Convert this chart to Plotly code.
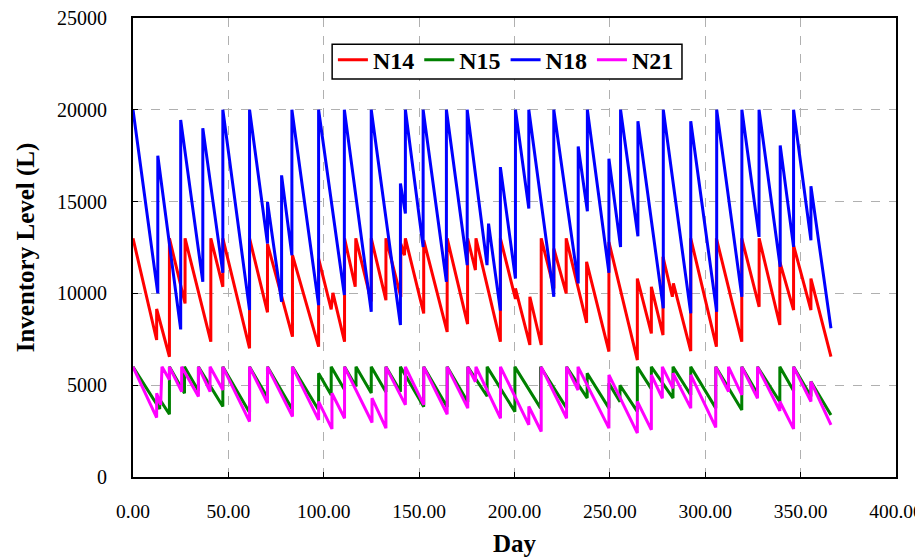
import plotly.graph_objects as go

# ---- data (day, inventory level in L) ----
n14_day = [0, 12.4, 12.4, 19.1, 19.1, 27.3, 27.3, 40.8, 40.8, 47.1, 47.1, 61.1, 61.1,
           70.5, 70.5, 83.6, 83.6, 97.3, 97.3, 103.9, 104.8, 110.9, 110.9, 116.5, 116.8,
           124.9, 124.9, 132.6, 132.6, 140.4, 140.4, 142.3, 142.8, 152.4, 152.4, 164.7, 164.7,
           175.4, 175.4, 179.5, 179.8, 192.6, 192.6, 200.5, 200.5, 208.05, 208.05, 214.0, 214.0,
           220.65, 220.65, 227.1, 227.1, 237.8, 237.8, 249.5, 249.5, 264.4, 264.4, 271.75, 271.75,
           277.85, 277.85, 282.75, 283.3, 292.4, 292.4, 305.85, 305.85, 319.15, 319.15, 328.25, 328.25,
           339.1, 339.1, 346.3, 346.3, 355.4, 355.4, 365.9]
n14_val = [13000, 7460, 9150, 6550, 13000, 9450, 13000, 7370, 13000, 10360, 13000, 7010, 13000,
           8970, 12700, 7640, 12080, 7100, 11900, 9130, 10030, 7370, 13000, 10360, 13000,
           9560, 13000, 9630, 13000, 9810, 12700, 12080, 13000, 8910, 12900, 7900, 13000,
           8330, 13000, 11270, 13000, 7370, 13000, 9700, 10270, 7190, 9816, 7190, 13000,
           10270, 12440, 9997, 13000, 8400, 11720, 6830, 12800, 6370, 10810, 7820, 10360,
           7730, 11990, 9816, 10540, 6860, 13000, 7100, 13000, 7370, 13000, 9270, 13000,
           8280, 11720, 9090, 12620, 9090, 10810, 6560]

n15_day = [0, 14.0, 14.0, 19.1, 19.1, 27.0, 27.0, 34.3, 34.3, 47.1, 47.1, 61.1, 61.1,
           70.5, 70.5, 83.6, 83.6, 97.3, 97.3, 103.9, 103.9, 110.9, 110.9, 116.9, 116.9,
           124.9, 124.9, 132.6, 132.6, 140.2, 140.2, 152.4, 152.4, 164.7, 164.7, 175.5, 175.5,
           185.65, 185.65, 200.2, 200.2, 213.65, 213.65, 227.3, 227.3, 238.1, 238.1, 249.5, 249.5,
           255.3, 255.3, 264.4, 264.4, 271.75, 271.75, 283.1, 283.1, 292.4, 292.4, 305.5, 305.5,
           319.15, 319.15, 327.4, 327.4, 339.1, 339.1, 346.3, 346.3, 355.4, 355.4, 365.9]
n15_val = [6000, 3700, 4230, 3420, 6000, 4560, 6000, 4700, 6000, 3840, 6000, 3510, 6000,
           4330, 6000, 3670, 6000, 3650, 5650, 4470, 6000, 4750, 6000, 4930, 6000,
           4580, 6000, 4630, 6000, 4650, 6000, 3830, 6000, 3810, 6000, 4080, 6000,
           4400, 6000, 3560, 6000, 3750, 6000, 3750, 6000, 4300, 5650, 3750, 5100,
           4100, 5000, 3560, 6000, 4800, 6000, 4300, 6000, 4470, 6000, 3750, 6000,
           3650, 6000, 4530, 6000, 4100, 6000, 4700, 6000, 4380, 5200, 3380]

n18_day = [0, 13.0, 13.0, 25.0, 25.0, 36.6, 36.6, 47.1, 47.1, 61.1, 61.1, 70.5, 70.5,
           77.9, 77.9, 83.3, 83.3, 97.3, 97.3, 110.8, 110.8, 124.9, 124.9, 140.2, 140.2,
           142.8, 142.8, 152.1, 152.1, 164.3, 164.3, 175.2, 175.2, 185.6, 186.4, 192.6, 192.6,
           200.5, 200.5, 207.5, 207.5, 220.6, 220.6, 233.4, 233.4, 238.2, 238.2, 249.5, 249.5,
           255.6, 255.6, 264.7, 264.7, 278.0, 278.0, 292.4, 292.4, 306.0, 306.0, 319.2, 319.2,
           328.2, 328.2, 339.3, 339.3, 346.3, 346.3, 355.4, 355.4, 365.9]
n18_val = [20000, 10000, 17500, 8040, 19450, 10630, 19000, 11120, 20000, 9090, 20000, 12720, 14980,
           9545, 16430, 12080, 20000, 9360, 20000, 9910, 20000, 9000, 20000, 8280, 15980,
           14350, 20000, 12530, 20000, 10630, 20000, 11540, 20000, 11540, 13800, 9060, 16880,
           10815, 20000, 14620, 20000, 9816, 20000, 10544, 18000, 14473, 20000, 11120, 17340,
           12530, 20000, 13115, 19380, 9185, 20000, 8913, 19380, 9000, 20000, 9816, 20000,
           13077, 20000, 11446, 18060, 12533, 20000, 12897, 15832, 8098]

n21_day = [0, 12.4, 12.4, 14.5, 15.2, 19.1, 19.1, 25.5, 25.5, 34.3, 34.3, 40.4, 40.4,
           47.1, 47.1, 61.1, 61.1, 70.5, 70.5, 83.6, 83.6, 97.3, 97.3, 104.3, 104.3,
           110.9, 110.9, 125.3, 125.3, 132.6, 132.6, 142.8, 142.8, 152.4, 152.4, 164.7, 164.7,
           175.5, 175.5, 179.5, 179.8, 192.65, 192.65, 207.5, 207.5, 214.0, 214.0, 227.3, 227.3,
           233.3, 233.3, 249.5, 249.5, 264.4, 264.4, 271.75, 271.75, 277.5, 277.5, 283.1, 283.1,
           292.4, 292.4, 305.5, 305.5, 312.2, 312.2, 319.15, 319.15, 327.4, 327.4, 339.1, 339.1,
           346.3, 346.3, 355.4, 355.4, 365.9]
n21_val = [6000, 3240, 4560, 3930, 6000, 5300, 6000, 4650, 6000, 4380, 6000, 4650, 6000,
           4740, 6000, 3020, 6000, 4020, 6000, 3290, 6000, 3110, 4110, 2620, 4560,
           3200, 6000, 2970, 4290, 2660, 6000, 3930, 6000, 3930, 6000, 3420, 6000,
           3750, 6000, 5190, 6000, 3200, 6000, 2840, 3840, 2480, 6000, 3200, 6000,
           4740, 6000, 2660, 5560, 2390, 4110, 2570, 5560, 4290, 6000, 4830, 5650,
           3750, 5560, 2700, 6000, 4650, 6000, 4470, 6000, 4290, 6000, 3600, 4110,
           2620, 6000, 4110, 5200, 2840]

x_ticks = [0, 50, 100, 150, 200, 250, 300, 350, 400]
y_ticks = [0, 5000, 10000, 15000, 20000, 25000]

series = [
    ("N14", n14_day, n14_val, "#FF0000"),
    ("N15", n15_day, n15_val, "#008000"),
    ("N18", n18_day, n18_val, "#0000FF"),
    ("N21", n21_day, n21_val, "#FF00FF"),
]

serif = "Liberation Serif, Times New Roman, serif"

fig = go.Figure()
for name, d, v, c in series:
    fig.add_trace(go.Scatter(x=d, y=v, mode="lines", name=name,
                             line=dict(color=c, width=3)))

# legend frame (tighter than plotly's own legend border)
fig.add_shape(type="rect", xref="paper", yref="paper",
              x0=0.261, x1=0.7195, y0=0.867, y1=0.943,
              line=dict(color="black", width=1.5), fillcolor="white", layer="above")

# the page body adds an 8px margin, so the figure is 8px smaller and shifted
fig.update_layout(
    width=915, height=549,
    margin=dict(l=125, r=27, t=10, b=80, autoexpand=False),
    paper_bgcolor="white", plot_bgcolor="white",
    font=dict(family=serif, size=20, color="black"),
    showlegend=True,
    legend=dict(
        orientation="h", x=0.262, y=0.957, xanchor="left", yanchor="top",
        bgcolor="rgba(0,0,0,0)", borderwidth=0,
        font=dict(family=serif, size=24, color="black", weight="bold"),
        itemwidth=30, tracegroupgap=0,
    ),
)
fig.update_xaxes(
    range=[0, 400], tickvals=x_ticks, ticktext=[f"{t:.2f}" for t in x_ticks],
    showgrid=True, gridcolor="#B0B0B0", griddash="dash", gridwidth=1,
    showline=True, linecolor="black", linewidth=2, mirror=True,
    ticks="inside", ticklen=5, tickcolor="black", zeroline=False,
    tickfont=dict(family=serif, size=19.5), ticklabelstandoff=16,
    ticklabeloverflow="allow", automargin=False,
    title=dict(text="<b>Day</b>", font=dict(family=serif, size=25), standoff=15),
)
fig.update_yaxes(
    range=[0, 25000], tickvals=y_ticks, ticktext=[str(t) for t in y_ticks],
    showgrid=True, gridcolor="#B0B0B0", griddash="dash", gridwidth=1,
    showline=True, linecolor="black", linewidth=2, mirror=True,
    ticks="inside", ticklen=5, tickcolor="black", zeroline=False,
    tickfont=dict(family=serif, size=20), ticklabelstandoff=20,
    ticklabeloverflow="allow", automargin=False,
    title=dict(text="<b>Inventory Level (L)</b>", font=dict(family=serif, size=25), standoff=15),
)

fig.write_html("out.html")
